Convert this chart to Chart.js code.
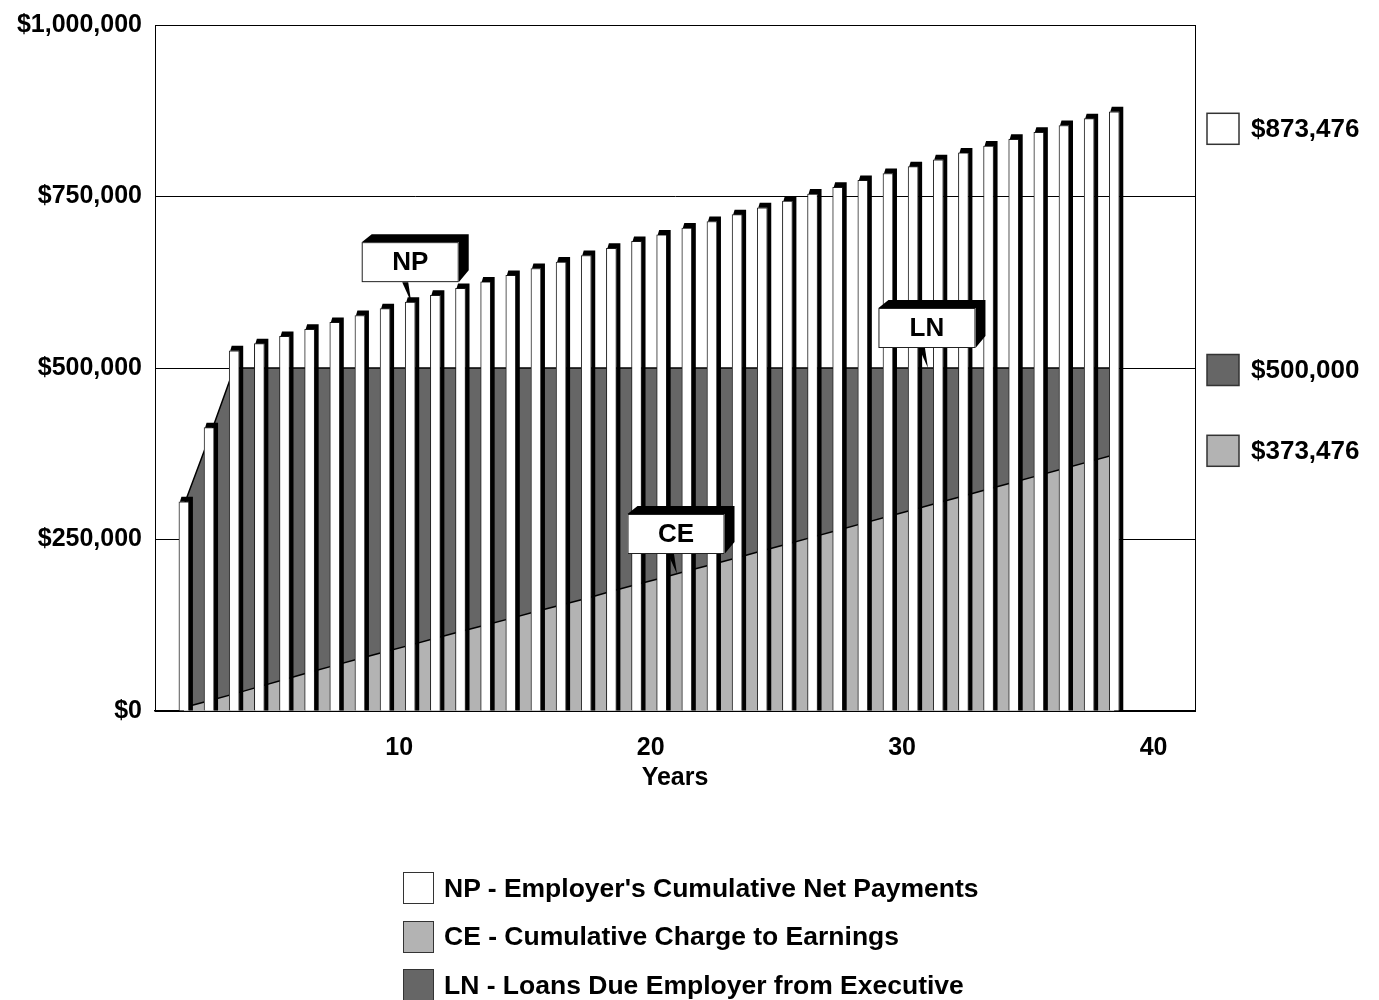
<!DOCTYPE html>
<html>
<head>
<meta charset="utf-8">
<script src="https://cdn.jsdelivr.net/npm/chart.js@4.4.1/dist/chart.umd.min.js"></script>
<style>
  html, body { margin: 0; padding: 0; background: #fff; }
  #wrap { position: relative; width: 1379px; height: 1000px; }
  #legend {
    position: absolute; left: 403px; top: 864px;
    font: bold 26.5px "Liberation Sans", Arial, sans-serif; color: #000;
  }
  #legend .item { display: flex; align-items: center; height: 48.5px; }
  #legend .swatch {
    width: 31px; height: 32px; box-sizing: border-box;
    border: 1.5px solid #333; margin-right: 10px; flex: none;
  }
</style>
</head>
<body>
<div id="wrap">
  <canvas id="chart" width="1379" height="1000"></canvas>
  <div id="legend"></div>
</div>
<script>
// Plan years
const years = [1, 2, 3, 4, 5, 6, 7, 8, 9, 10, 11, 12, 13, 14, 15, 16, 17, 18, 19, 20,
               21, 22, 23, 24, 25, 26, 27, 28, 29, 30, 31, 32, 33, 34, 35, 36, 37, 38];

// NP - employer's cumulative net payments
const npValues = [305000, 413000, 525000, 535500, 546000, 556500, 566500, 576500, 586500, 596000,
                  606000, 616000, 625500, 635000, 645000, 654500, 664000, 674500, 684500, 694000,
                  704000, 713500, 723500, 733500, 743500, 753500, 763500, 773500, 783500, 793500,
                  803500, 813500, 823500, 833500, 843500, 853500, 863500, 873476];

// CE - cumulative charge to earnings
const ceValues = [5000, 15000, 25000, 35500, 46000, 56500, 66500, 76500, 86500, 96000,
                  106000, 116000, 125500, 135000, 145000, 154500, 164000, 174500, 184500, 194000,
                  204000, 213500, 223500, 233500, 243500, 253500, 263500, 273500, 283500, 293500,
                  303500, 313500, 323500, 333500, 343500, 353500, 363500, 373476];

// LN - loans due employer from executive
const lnValues = [300000, 398000, 500000, 500000, 500000, 500000, 500000, 500000, 500000, 500000,
                  500000, 500000, 500000, 500000, 500000, 500000, 500000, 500000, 500000, 500000,
                  500000, 500000, 500000, 500000, 500000, 500000, 500000, 500000, 500000, 500000,
                  500000, 500000, 500000, 500000, 500000, 500000, 500000, 500000];

const yTickValues = [0, 250000, 500000, 750000, 1000000];
const xTickValues = [10, 20, 30, 40];

const seriesNames = [
  "NP - Employer's Cumulative Net Payments",
  "CE - Cumulative Charge to Earnings",
  "LN - Loans Due Employer from Executive"
];
const seriesTags = ['NP', 'CE', 'LN'];
const seriesColors = ['#ffffff', '#b3b3b3', '#666666'];

const FONT = "'Liberation Sans', Arial, Helvetica, sans-serif";
const money = v => '$' + Math.round(v).toLocaleString('en-US');

// 3D faces (top and right side) on each bar, plus the plot frame
const barDepth = {
  id: 'barDepth',
  afterDatasetsDraw(chart) {
    const ctx = chart.ctx;
    const meta = chart.getDatasetMeta(0);
    const dx = 4, dy = 5;
    ctx.save();
    ctx.fillStyle = '#000';
    meta.data.forEach(el => {
      const p = el.getProps(['x', 'y', 'base', 'width'], true);
      const L = p.x - p.width / 2, R = p.x + p.width / 2;
      ctx.beginPath();
      ctx.moveTo(L + 1, p.y);
      ctx.lineTo(L + 2.5, p.y - dy);
      ctx.lineTo(R + dx, p.y - dy);
      ctx.lineTo(R + dx, p.base);
      ctx.lineTo(R, p.base);
      ctx.lineTo(R, p.y);
      ctx.closePath();
      ctx.fill();
    });
    const a = chart.chartArea;
    ctx.strokeStyle = '#000';
    ctx.lineWidth = 1;
    ctx.strokeRect(Math.round(a.left) + 0.5, Math.round(a.top) + 0.5,
                   Math.round(a.right - a.left), Math.round(a.bottom - a.top));
    ctx.restore();
  }
};

// Final-year values listed to the right of the plot
const endLabels = {
  id: 'endLabels',
  afterDraw(chart) {
    const ctx = chart.ctx;
    const ys = chart.scales.y;
    const a = chart.chartArea;
    const items = [
      { ds: 0, nudge: 17 },
      { ds: 2, nudge: 2 },
      { ds: 1, nudge: -4 }
    ];
    ctx.save();
    ctx.font = 'bold 26px ' + FONT;
    ctx.textBaseline = 'middle';
    ctx.textAlign = 'left';
    items.forEach(it => {
      const d = chart.data.datasets[it.ds];
      const last = d.data[d.data.length - 1].y;
      const cy = ys.getPixelForValue(last) + it.nudge;
      const bx = a.right + 12;
      ctx.fillStyle = d.backgroundColor;
      ctx.fillRect(bx, cy - 15.5, 32, 31);
      ctx.strokeStyle = '#333';
      ctx.lineWidth = 1.5;
      ctx.strokeRect(bx, cy - 15.5, 32, 31);
      ctx.fillStyle = '#000';
      ctx.fillText(money(last), bx + 44, cy + 1);
    });
    ctx.restore();
  }
};

// Boxed series tags with pointers to their series
const callouts = {
  id: 'callouts',
  afterDraw(chart) {
    const ctx = chart.ctx;
    const specs = [
      { ds: 0, at: 9 },
      { ds: 1, at: 19.57 },
      { ds: 2, at: 29.55 }
    ];
    const w = 97, h = 40, gap = 20, dx = 10, dy = 8;
    ctx.save();
    specs.forEach(s => {
      const meta = chart.getDatasetMeta(s.ds);
      const i0 = Math.floor(s.at), i1 = Math.min(Math.ceil(s.at), meta.data.length - 1);
      const t = s.at - i0;
      const p0 = meta.data[i0].getProps(['x', 'y'], true);
      const p1 = meta.data[i1].getProps(['x', 'y'], true);
      const tipX = p0.x + (p1.x - p0.x) * t;
      const tipY = p0.y + (p1.y - p0.y) * t;
      const cx = tipX, B = tipY - gap, T = B - h, L = cx - w / 2, R = cx + w / 2;
      ctx.fillStyle = '#000';
      ctx.beginPath();
      ctx.moveTo(L, T);
      ctx.lineTo(L + dx, T - dy);
      ctx.lineTo(R + dx, T - dy);
      ctx.lineTo(R + dx, B - dy - 4);
      ctx.lineTo(R, B);
      ctx.lineTo(R, T);
      ctx.closePath();
      ctx.fill();
      ctx.fillStyle = '#fff';
      ctx.fillRect(L, T, w, h);
      ctx.strokeStyle = '#222';
      ctx.lineWidth = 1;
      ctx.strokeRect(L + 0.5, T + 0.5, w - 1, h - 1);
      ctx.fillStyle = '#000';
      ctx.beginPath();
      ctx.moveTo(cx - 8, B);
      ctx.lineTo(cx - 2, B);
      ctx.lineTo(tipX + 1, tipY);
      ctx.closePath();
      ctx.fill();
      ctx.font = 'bold 26px ' + FONT;
      ctx.textAlign = 'center';
      ctx.textBaseline = 'middle';
      ctx.fillText(seriesTags[s.ds], cx, (T + B) / 2 + 1);
    });
    ctx.restore();
  }
};

const toPoints = vals => years.map((x, i) => ({ x, y: vals[i] }));

const chart = new Chart(document.getElementById('chart'), {
  type: 'bar',
  data: {
    datasets: [
      {
        type: 'bar', label: seriesNames[0], data: toPoints(npValues),
        backgroundColor: seriesColors[0], borderColor: '#222', borderWidth: 1,
        barThickness: 10, order: 0
      },
      {
        type: 'line', label: seriesNames[1], data: toPoints(ceValues),
        fill: 'origin', backgroundColor: seriesColors[1], borderColor: '#000',
        borderWidth: 1.5, pointRadius: 0, tension: 0, order: 1
      },
      {
        type: 'line', label: seriesNames[2], data: toPoints(lnValues),
        fill: 'origin', backgroundColor: seriesColors[2], borderColor: '#000',
        borderWidth: 1.5, pointRadius: 0, tension: 0, order: 2
      }
    ]
  },
  options: {
    responsive: false,
    animation: false,
    devicePixelRatio: 1,
    layout: { padding: { top: 25, right: 184, bottom: 207, left: 0 } },
    plugins: { legend: { display: false }, tooltip: { enabled: false } },
    scales: {
      x: {
        type: 'linear', min: -0.15, max: 41.21, offset: false,
        grid: { display: false, drawTicks: false, offset: false },
        border: { display: true, color: '#000', width: 1.5 },
        afterBuildTicks: s => { s.ticks = xTickValues.map(v => ({ value: v })); },
        ticks: {
          font: { family: FONT, weight: 'bold', size: 25 }, color: '#000',
          padding: 22, labelOffset: -11, maxRotation: 0, autoSkip: false
        },
        title: {
          display: true, text: 'Years', color: '#000',
          font: { family: FONT, weight: 'bold', size: 25 },
          padding: { top: 0, bottom: 0 }
        },
        afterFit: s => { s.height = 82; s.paddingLeft = 0; s.paddingRight = 0; }
      },
      y: {
        min: 0, max: 1000000,
        afterBuildTicks: s => { s.ticks = yTickValues.map(v => ({ value: v })); },
        grid: { color: '#000', lineWidth: 1, drawTicks: false },
        border: { display: true, color: '#000', width: 1 },
        ticks: {
          font: { family: FONT, weight: 'bold', size: 25 }, color: '#000',
          padding: 13, callback: v => money(v)
        },
        afterFit: s => { s.width = 155; s.paddingTop = 0; s.paddingBottom = 0; }
      }
    }
  },
  plugins: [barDepth, endLabels, callouts]
});

// Legend below the chart, one series per row
const legend = document.getElementById('legend');
chart.data.datasets.forEach(d => {
  const row = document.createElement('div');
  row.className = 'item';
  const sw = document.createElement('span');
  sw.className = 'swatch';
  sw.style.background = d.backgroundColor;
  const tx = document.createElement('span');
  tx.textContent = d.label;
  row.appendChild(sw);
  row.appendChild(tx);
  legend.appendChild(row);
});
</script>
</body>
</html>
